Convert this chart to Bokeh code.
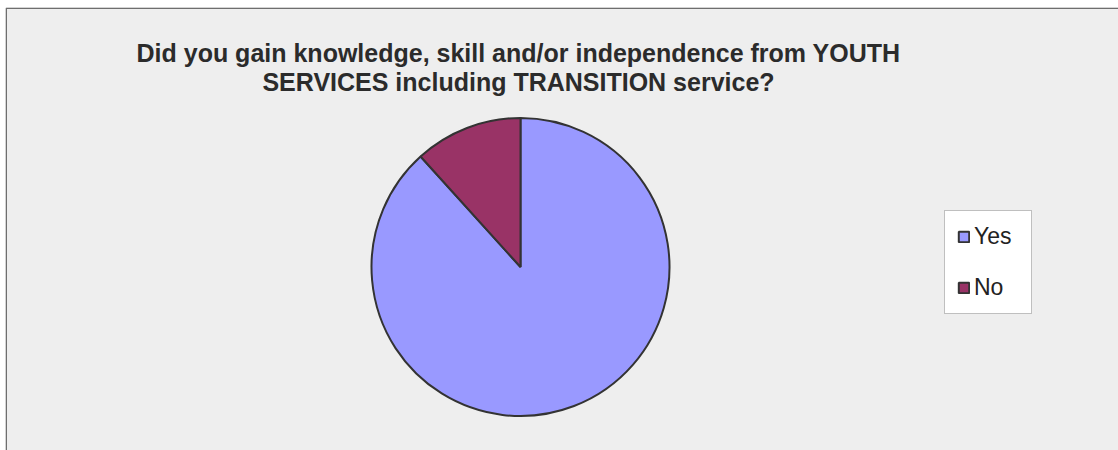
import numpy as np
from bokeh.plotting import figure
from bokeh.models import ColumnDataSource, Range1d, Label
from bokeh.embed import file_html
from bokeh.resources import INLINE

# Data
categories = ["Yes", "No"]
values = [88.3, 11.7]
colors = ["#9999FF", "#993366"]
title_lines = ["Did you gain knowledge, skill and/or independence from YOUTH",
               "SERVICES including TRANSITION service?"]

W, H = 1118, 450
BL, BT = 5, 7  # white strip left / top of the chart area
bg = "#eeeeee"

vals = np.array(values, dtype=float)
frac = vals / vals.sum()
cum_end = np.cumsum(frac) * 2 * np.pi
cum_start = cum_end - frac * 2 * np.pi
# clockwise from 12 o'clock
start = np.pi / 2 - cum_end
end = np.pi / 2 - cum_start

src = ColumnDataSource(dict(category=categories, value=values, color=colors,
                            start=start.tolist(), end=end.tolist()))

p = figure(width=W, height=H, x_range=Range1d(BL, W), y_range=Range1d(0, H - BT),
           min_border=0, min_border_left=BL, min_border_top=BT,
           output_backend="svg", toolbar_location=None)
p.axis.visible = False
p.grid.visible = False
p.background_fill_color = bg
p.border_fill_color = "white"
p.outline_line_color = None

# chart area border (left and top)
p.line(x=[BL + 0.75, BL + 0.75, W], y=[0, H - BT - 0.75, H - BT - 0.75],
       line_color="#6e6e6e", line_width=1.5)

cx, cy, r = 520, 450 - 266.5, 149
p.wedge(x=cx, y=cy, radius=r, radius_units="screen",
        start_angle="start", end_angle="end",
        fill_color="color", line_color="#333333", line_width=2,
        legend_field="category", source=src)

lg = p.legend[0]
lg.location = (944 - BL, 450 - 314)
lg.background_fill_color = "white"
lg.background_fill_alpha = 1
lg.border_line_color = "#808080"
lg.border_line_width = 1.5
lg.label_text_font = "Liberation Sans"
lg.label_text_font_size = "23px"
lg.label_text_color = "#222222"
lg.glyph_width = 13
lg.glyph_height = 13
lg.label_height = 26
lg.label_width = 45
lg.label_standoff = 4
lg.padding = 12
lg.spacing = 24
lg.margin = 0

for yb, t in zip([52, 81], title_lines):
    p.add_layout(Label(x=518, y=450 - yb, text=t, text_align="center",
                       text_baseline="alphabetic",
                       text_font="Liberation Sans", text_font_style="bold",
                       text_font_size="25px", text_color="#2b2b2b"))

open("out.html", "w").write(file_html(p, INLINE))
